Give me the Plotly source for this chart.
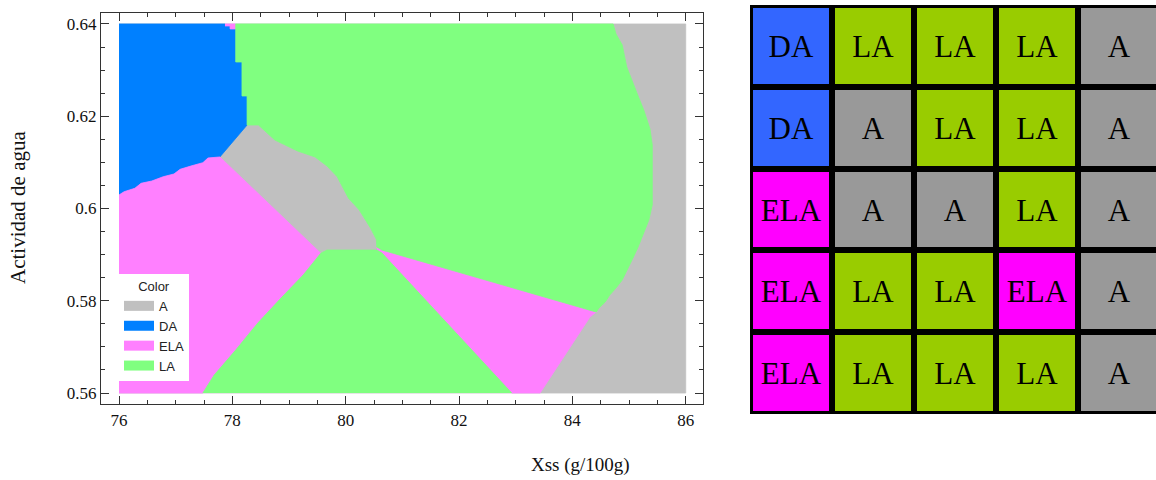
import plotly.graph_objects as go

# ---------------- DATA ----------------
categories = ["A", "DA", "ELA", "LA"]

# Left map: polygon vertices of each class region (Xss, aw)
A_x = [76, 86, 86, 76]
A_y = [0.56, 0.56, 0.64, 0.64]

DA_x = [76, 77.87, 77.87, 77.96, 77.96, 78.06, 78.06, 78.17, 78.17, 78.26, 78.26,
        77.78, 77.57, 77.48, 77.27, 77.08, 76.97, 76.78, 76.58, 76.39, 76.28, 76.09, 76]
DA_y = [0.64, 0.64, 0.63957, 0.63957, 0.63892, 0.63892, 0.63176, 0.63176, 0.62439, 0.62439, 0.61810,
        0.61117, 0.61095, 0.60993, 0.60921, 0.60850, 0.60748, 0.60689, 0.60596, 0.60546, 0.60438, 0.60364, 0.60293]

ELA_left_x = [76, 76.09, 76.28, 76.39, 76.58, 76.78, 76.97, 77.08, 77.27, 77.48, 77.57, 77.78,
              79.56, 79.25, 78.86, 78.45, 78.06, 77.68, 77.48, 76]
ELA_left_y = [0.60293, 0.60364, 0.60438, 0.60546, 0.60596, 0.60689, 0.60748, 0.60850, 0.60921, 0.60993, 0.61095, 0.61117,
              0.59029, 0.58558, 0.58060, 0.57518, 0.56932, 0.56390, 0.56, 0.56]

ELA_notch_x = [77.87, 78.06, 78.06, 77.96, 77.96, 77.87]
ELA_notch_y = [0.64, 0.64, 0.63892, 0.63892, 0.63957, 0.63957]

ELA_right_x = [80.55, 80.64, 84.42, 84.31, 83.43, 82.93, 80.64, 80.55]
ELA_right_y = [0.59165, 0.59100, 0.57756, 0.57648, 0.56, 0.56, 0.59035, 0.59100]

LA_top_x = [78.06, 84.72, 84.77, 84.88, 84.96, 85.07, 85.16, 85.26, 85.37, 85.41, 85.41,
            85.35, 85.26, 85.16, 85.07, 84.96, 84.88, 84.77, 84.66, 84.58, 84.47, 84.42,
            80.64, 80.55, 80.54, 80.44, 80.24, 80.05, 79.85, 79.67, 79.46, 79.15, 78.75, 78.46, 78.26,
            78.26, 78.17, 78.17, 78.06, 78.06]
LA_top_y = [0.64, 0.64, 0.63783, 0.63545, 0.63068, 0.62743, 0.62439, 0.62135, 0.61724, 0.61377, 0.60076,
            0.59751, 0.59469, 0.59165, 0.58927, 0.58667, 0.58450, 0.58276, 0.58125, 0.57973, 0.57843, 0.57756,
            0.59100, 0.59165, 0.59332, 0.59571, 0.59967, 0.60221, 0.60689, 0.60921, 0.61117, 0.61247, 0.61485, 0.61810, 0.61810,
            0.62439, 0.62439, 0.63176, 0.63176, 0.64]

LA_bottom_x = [77.48, 77.68, 78.06, 78.45, 78.86, 79.25, 79.56, 79.67, 80.55, 80.64, 82.93]
LA_bottom_y = [0.56, 0.56390, 0.56932, 0.57518, 0.58060, 0.58558, 0.59029, 0.59100, 0.59100, 0.59035, 0.56]

# Right grid: class at each design point (rows top to bottom)
grid_rows = [
    ["DA", "LA", "LA", "LA", "A"],
    ["DA", "A", "LA", "LA", "A"],
    ["ELA", "A", "A", "LA", "A"],
    ["ELA", "LA", "LA", "ELA", "A"],
    ["ELA", "LA", "LA", "LA", "A"],
]

x_ticks = [76, 78, 80, 82, 84, 86]
y_ticks = [0.56, 0.58, 0.60, 0.62, 0.64]

# ---------------- STYLE ----------------
map_colors = {"A": "#C0C0C0", "DA": "#0080FF", "ELA": "#FF80FF", "LA": "#80FF80"}
grid_colors = {"A": "#999999", "DA": "#3366FF", "ELA": "#FF00FF", "LA": "#99CC00"}

W, H = 1156, 480
serif = "Liberation Serif"
sans = "Liberation Sans"

fig = go.Figure()

def add_region(xs, ys, cat):
    fig.add_trace(go.Scatter(
        x=xs, y=ys, mode="lines", fill="toself",
        fillcolor=map_colors[cat], line=dict(color=map_colors[cat], width=0.8),
        name=cat, legendgroup=cat, showlegend=False, hoverinfo="skip",
        xaxis="x", yaxis="y"))

add_region(A_x, A_y, "A")
add_region(DA_x, DA_y, "DA")
add_region(ELA_left_x, ELA_left_y, "ELA")
add_region(ELA_notch_x, ELA_notch_y, "ELA")
add_region(ELA_right_x, ELA_right_y, "ELA")
add_region(LA_top_x, LA_top_y, "LA")
add_region(LA_bottom_x, LA_bottom_y, "LA")

# legend entries (swatches)
for cat in categories:
    fig.add_trace(go.Scatter(
        x=[None], y=[None], mode="lines", name=cat, legendgroup=cat,
        line=dict(color=map_colors[cat], width=10), showlegend=True,
        hoverinfo="skip", xaxis="x", yaxis="y"))

# Right grid heatmap
code = {c: i for i, c in enumerate(categories)}
z = [[code[c] for c in row] for row in grid_rows]
cs = [[i / (len(categories) - 1), grid_colors[c]] for i, c in enumerate(categories)]
fig.add_trace(go.Heatmap(
    z=z, text=grid_rows, texttemplate="%{text}",
    textfont=dict(family=serif, size=31, color="black"),
    colorscale=cs, zmin=0, zmax=len(categories) - 1, showscale=False,
    xgap=6, ygap=6, hoverinfo="skip", xaxis="x2", yaxis="y2", showlegend=False))

axis_common = dict(
    showline=True, linecolor="#333333", linewidth=1.2, mirror="allticks",
    ticks="inside", ticklen=8, tickwidth=1, tickcolor="#333333",
    showgrid=False, zeroline=False,
    tickfont=dict(family=serif, size=17, color="#111111"),
)

fig.update_layout(
    width=W, height=H,
    margin=dict(l=0, r=0, t=0, b=0),
    paper_bgcolor="white", plot_bgcolor="white",
    xaxis=dict(domain=[101 / W, 703 / W], range=[75.6824, 86.305], anchor="y",
               tickmode="array", tickvals=x_ticks, ticktext=[str(v) for v in x_ticks],
               minor=dict(dtick=0.5, tick0=76, ticks="inside", ticklen=4, tickcolor="#333333", showgrid=False),
               **axis_common),
    yaxis=dict(domain=[1 - 404 / H, 1 - 13 / H], range=[0.55762, 0.64238], anchor="x",
               tickmode="array", tickvals=y_ticks, ticktext=[f"{v:g}" for v in y_ticks],
               minor=dict(dtick=0.005, tick0=0.56, ticks="inside", ticklen=4, tickcolor="#333333", showgrid=False),
               **axis_common),
    xaxis2=dict(domain=[750 / W, 1.0], range=[-0.5, 4.457], visible=False, anchor="y2", fixedrange=True),
    yaxis2=dict(domain=[1 - 414 / H, 1 - 5 / H], range=[4.5, -0.5], visible=False, anchor="x2", fixedrange=True),
    showlegend=True,
    legend=dict(
        x=119 / W, y=1 - 274 / H, xanchor="left", yanchor="top",
        bgcolor="white", borderwidth=0,
        font=dict(family=sans, size=13, color="#222222"),
        title=dict(text="Color", side="top center", font=dict(family=sans, size=13, color="#222222")),
        traceorder="normal", itemwidth=30, tracegroupgap=0,
    ),
    shapes=[dict(type="rect", xref="x2", yref="y2", x0=-0.6, x1=5.0, y0=-0.6, y1=4.6,
                 fillcolor="black", line=dict(width=0), layer="below")],
    annotations=[
        dict(text="Xss (g/100g)", x=580 / W, y=1 - 465 / H, xref="paper", yref="paper",
             showarrow=False, xanchor="center", yanchor="middle",
             font=dict(family=serif, size=19, color="#111111")),
        dict(text="Actividad de agua", x=18 / W, y=1 - 208 / H, xref="paper", yref="paper",
             showarrow=False, xanchor="center", yanchor="middle", textangle=-90,
             font=dict(family=serif, size=21, color="#111111")),
    ],
)

fig.write_html("out.html", config={"displayModeBar": False},
               post_script="document.body.style.margin='0';")
